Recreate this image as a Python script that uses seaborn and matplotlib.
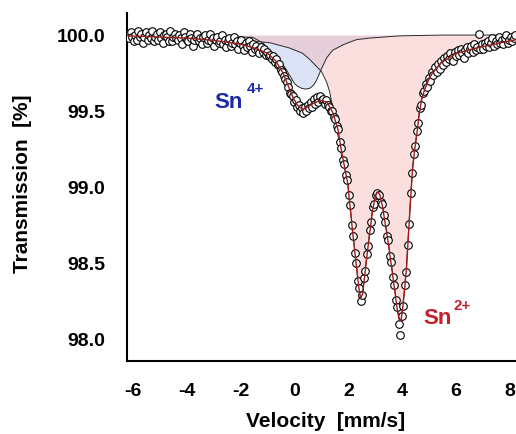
import matplotlib
matplotlib.use("Agg")
import matplotlib.pyplot as plt
import seaborn as sns
import pandas as pd
import numpy as np

# measured spectrum (transmission in %, one value per channel)
transmission = [
    100.01, 99.98, 100.02, 99.99, 99.96, 100.00, 99.97, 100.03, 99.99, 100.01,
    99.95, 99.99, 100.02, 99.97, 100.00, 99.98, 100.03, 99.96, 99.99, 100.01,
    99.97, 100.02, 99.98, 99.95, 100.00, 100.01, 99.99, 99.96, 100.03, 99.96,
    99.99, 100.01, 99.98, 99.97, 100.00, 99.98, 99.94, 100.02, 99.99, 99.97,
    99.96, 100.01, 99.98, 99.93, 99.97, 99.99, 100.01, 99.96, 99.98, 99.94,
    99.99, 100.00, 99.95, 99.97, 100.01, 99.96, 99.98, 99.93, 99.97, 99.99,
    99.95, 99.96, 100.00, 99.94, 99.97, 99.92, 99.96, 99.98, 99.93, 99.95,
    99.99, 99.94, 99.96, 99.91, 99.95, 99.97, 99.93, 99.90, 99.95, 99.92,
    99.96, 99.93, 99.89, 99.94, 99.91, 99.93, 99.90, 99.88, 99.92, 99.89,
    99.91, 99.87, 99.89, 99.86, 99.87, 99.84, 99.86, 99.82, 99.84, 99.80,
    99.81, 99.77, 99.76, 99.73, 99.71, 99.69, 99.66, 99.62, 99.61, 99.60,
    99.56, 99.57, 99.53, 99.54, 99.50, 99.52, 99.49, 99.53, 99.50, 99.54,
    99.52, 99.56, 99.53, 99.58, 99.55, 99.59, 99.56, 99.60, 99.57, 99.58,
    99.55, 99.57, 99.54, 99.53, 99.50, 99.50, 99.46, 99.45, 99.40, 99.38,
    99.30, 99.26, 99.18, 99.15, 99.08, 99.05, 98.95, 98.88, 98.75, 98.68,
    98.57, 98.50, 98.38, 98.34, 98.25, 98.29, 98.40, 98.45, 98.56, 98.61,
    98.72, 98.77, 98.87, 98.89, 98.95, 98.96, 98.95, 98.90, 98.89, 98.82,
    98.77, 98.68, 98.65, 98.55, 98.51, 98.41, 98.36, 98.26, 98.21, 98.10,
    98.03, 98.15, 98.22, 98.36, 98.44, 98.62, 98.76, 98.96, 99.09, 99.22,
    99.27, 99.37, 99.42, 99.52, 99.54, 99.62, 99.63, 99.68, 99.66, 99.72,
    99.70, 99.76, 99.74, 99.79, 99.76, 99.81, 99.78, 99.83, 99.80, 99.85,
    99.82, 99.86, 99.84, 99.88, 99.85, 99.83, 99.89, 99.86, 99.90, 99.87,
    99.91, 99.88, 99.85, 99.90, 99.92, 99.88, 99.91, 99.93, 99.89, 99.94,
    99.90, 99.92, 100.01, 99.91, 99.94, 99.91, 99.95, 99.93, 99.96, 99.92,
    99.95, 99.98, 99.93, 99.96, 99.94, 99.99, 99.95, 99.97, 99.94, 99.98,
    100.00, 99.95, 99.97, 99.99, 99.96, 99.98, 100.00,
]
# channels are evenly spaced in velocity
velocity = np.linspace(-6.2, 8.2, len(transmission))

# total fit
fit_v = [-6.2, -4.0, -3.0, -2.0, -1.5, -1.0, -0.7, -0.43, -0.2, -0.06, 0.1, 0.31,
         0.5, 0.68, 0.94, 1.2, 1.42, 1.61, 1.76, 1.97, 2.16, 2.34, 2.41, 2.46,
         2.53, 2.62, 2.71, 2.9, 3.0, 3.08, 3.17, 3.27, 3.45, 3.64, 3.82, 3.9,
         3.96, 4.01, 4.08, 4.16, 4.27, 4.38, 4.46, 4.53, 4.64, 4.73, 4.83, 4.97,
         5.12, 5.46, 6.01, 6.87, 8.25]
fit_T = [99.995, 99.98, 99.965, 99.94, 99.915, 99.88, 99.83, 99.75, 99.65, 99.59,
         99.54, 99.51, 99.53, 99.55, 99.57, 99.56, 99.49, 99.38, 99.22, 99.03,
         98.70, 98.41, 98.31, 98.27, 98.30, 98.44, 98.58, 98.85, 98.94, 98.97,
         98.95, 98.87, 98.67, 98.43, 98.19, 98.12, 98.13, 98.19, 98.31, 98.47,
         98.80, 99.11, 99.24, 99.33, 99.49, 99.58, 99.64, 99.70, 99.75, 99.82,
         99.88, 99.92, 99.97]

# Sn2+ doublet component
sn2_v = [-6.2, -4.0, -2.5, -1.56, -0.93, -0.19, 0.3, 0.56, 0.78, 1.0, 1.19, 1.3,
         1.41, 1.56, 1.74, 1.97, 2.16, 2.34, 2.41, 2.46, 2.53, 2.62, 2.71, 2.9,
         3.0, 3.08, 3.17, 3.27, 3.45, 3.64, 3.82, 3.9, 3.96, 4.01, 4.08, 4.16,
         4.27, 4.38, 4.46, 4.53, 4.64, 4.73, 4.83, 4.97, 5.12, 5.46, 6.01, 6.87, 8.25]
sn2_T = [99.99, 99.985, 99.975, 99.96, 99.95, 99.915, 99.88, 99.84, 99.80, 99.76,
         99.69, 99.63, 99.53, 99.39, 99.21, 99.04, 98.71, 98.42, 98.32, 98.28,
         98.31, 98.45, 98.59, 98.86, 98.95, 98.98, 98.96, 98.88, 98.68, 98.44,
         98.20, 98.13, 98.14, 98.20, 98.32, 98.48, 98.81, 99.12, 99.25, 99.34,
         99.50, 99.59, 99.65, 99.71, 99.755, 99.825, 99.88, 99.925, 99.97]

# Sn4+ component
sn4_v = [-6.2, -3.0, -1.56, -1.19, -0.93, -0.56, -0.3, 0.0, 0.1, 0.26, 0.4, 0.56,
         0.70, 0.81, 1.0, 1.19, 1.41, 1.85, 2.3, 2.78, 3.9, 5.5, 8.25]
sn4_T = [99.998, 99.993, 99.985, 99.95, 99.90, 99.84, 99.77, 99.68, 99.665, 99.65,
         99.645, 99.65, 99.67, 99.70, 99.78, 99.85, 99.90, 99.94, 99.97, 99.98,
         99.995, 100.0, 100.0]

spectrum = pd.DataFrame({'velocity': velocity, 'transmission': transmission})
fit = pd.DataFrame({'velocity': fit_v, 'transmission': fit_T})

sns.set_theme(style='white')
plt.rcParams['font.family'] = ['Liberation Sans', 'DejaVu Sans']
plt.rcParams['font.weight'] = 'bold'
plt.rcParams['axes.unicode_minus'] = False
plt.rcParams['text.color'] = 'black'
plt.rcParams['axes.labelcolor'] = 'black'
plt.rcParams['xtick.color'] = 'black'
plt.rcParams['ytick.color'] = 'black'

fig = plt.figure(figsize=(5.16, 4.34), dpi=100)
ax = fig.add_axes([0.2467, 0.1682, 0.7533, 0.8018])

# component areas
ax.fill_between(sn4_v, sn4_T, 100.0, color='#dde3f6', lw=0, zorder=1)
ax.fill_between(sn2_v, sn2_T, 100.0, color=(0.97, 0.70, 0.70), alpha=0.41, lw=0, zorder=2)
ax.plot(sn4_v, sn4_T, color='#2b2b2b', lw=0.7, zorder=3)
ax.plot(sn2_v, sn2_T, color='#2b2b2b', lw=0.7, zorder=3)

sns.scatterplot(data=spectrum, x='velocity', y='transmission', ax=ax,
                marker='o', s=30, color='white', edgecolor='black',
                linewidth=0.8, zorder=4, legend=False)
sns.lineplot(data=fit, x='velocity', y='transmission', ax=ax,
             color='#9b1c1c', lw=1.0, zorder=5, sort=False)

ax.text(-3.0, 99.52, 'Sn', color='#1c2aa8', fontsize=16, fontweight='bold')
ax.text(-1.78, 99.62, '4+', color='#1c2aa8', fontsize=11, fontweight='bold')
ax.text(4.78, 98.10, 'Sn', color='#c8202a', fontsize=16, fontweight='bold')
ax.text(5.89, 98.195, '2+', color='#c8202a', fontsize=11, fontweight='bold')

ax.set_xlim(-6.22, 8.23)
ax.set_ylim(97.857, 100.145)
ax.set_xticks([-6, -4, -2, 0, 2, 4, 6, 8])
ax.set_yticks([98.0, 98.5, 99.0, 99.5, 100.0])
ax.set_yticklabels(['98.0', '98.5', '99.0', '99.5', '100.0'])

sns.despine(ax=ax)
for side in ['left', 'bottom']:
    ax.spines[side].set_linewidth(1.5)
    ax.spines[side].set_color('black')
ax.tick_params(axis='both', direction='out', length=6.5, width=1.3,
               color='black', labelcolor='black', labelsize=14)
ax.tick_params(axis='y', pad=9.5)
ax.tick_params(axis='x', pad=9.5)
for lab in ax.get_xticklabels() + ax.get_yticklabels():
    lab.set_fontweight('bold')

ax.set_xlabel('Velocity  [mm/s]', fontsize=15, fontweight='bold', color='black')
ax.set_ylabel('Transmission  [%]', fontsize=15, fontweight='bold', color='black')
ax.xaxis.set_label_coords(0.51, -0.175)
ax.xaxis.label.set_va('center')
ax.yaxis.set_label_coords(-0.269, 0.51)
ax.yaxis.label.set_va('center')

fig.savefig('out.png', dpi=100)
